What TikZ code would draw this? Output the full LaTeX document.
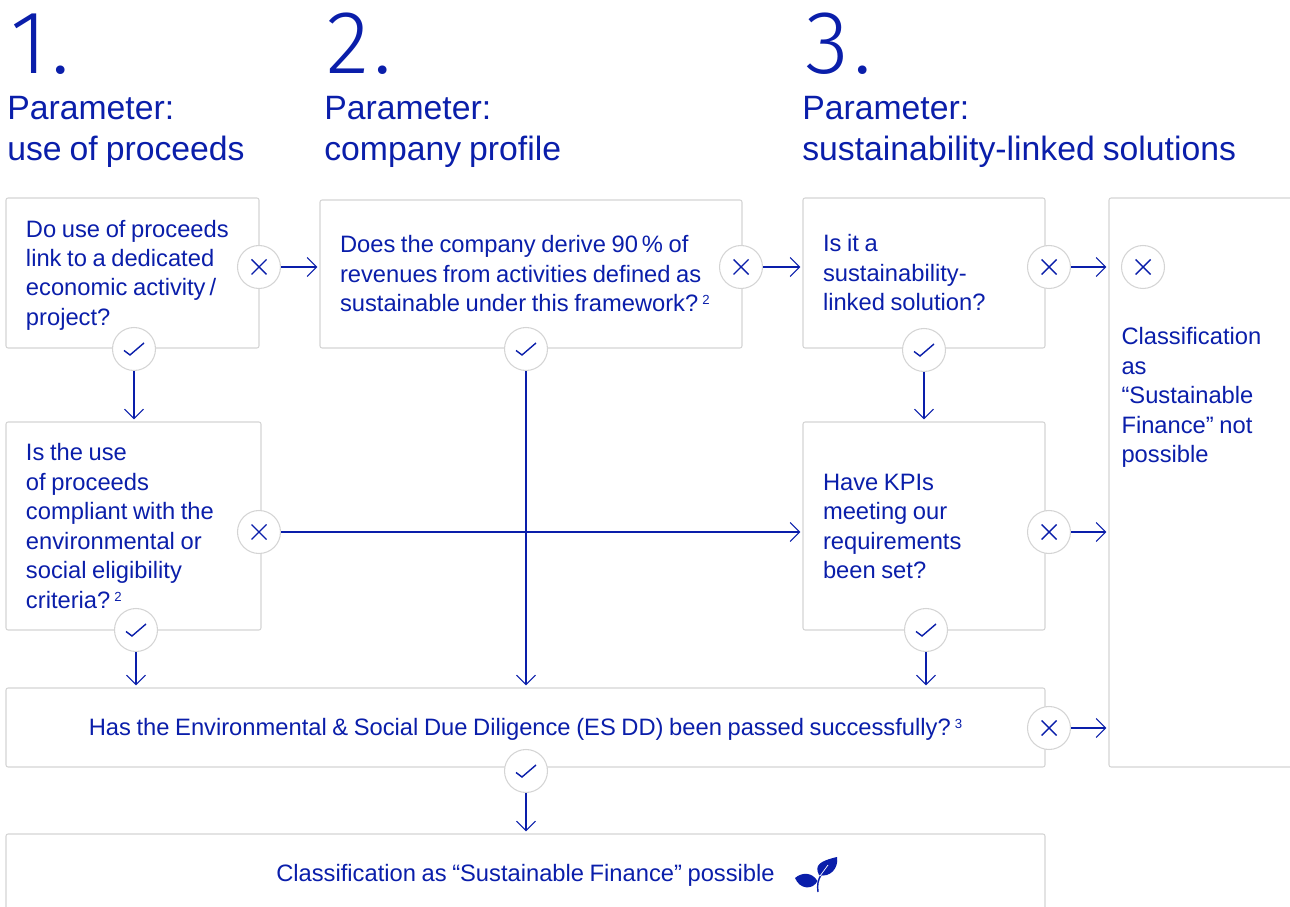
\documentclass[tikz,border=0pt]{standalone}
\usepackage{fontspec}
\setmainfont[WordSpace=0.85]{Liberation Sans}
\newfontfamily\numberfont[UprightFont={* Light}, LetterSpace=5]{Fira Sans}
\usepackage{tikz}
\usetikzlibrary{arrows.meta}
\definecolor{inkblue}{RGB}{10,30,170}
\definecolor{boxgray}{RGB}{212,212,212}
\newcommand{\footmark}[1]{\,\raisebox{0.55ex}{\fontsize{7.5}{8}\selectfont #1}}
\tikzstyle{questionbox} = [rectangle, draw=boxgray, line width=0.6pt, rounded corners=1.2pt, inner xsep=0.4cm, inner ysep=0pt, text=inkblue, align=flush left, font=\fontsize{13.5}{16.75}\selectfont, execute at begin node={\rule{0pt}{12.2pt}}, execute at end node={\rule[-2.6pt]{0pt}{2.6pt}}]
\tikzstyle{widebox} = [questionbox, align=flush center, minimum width=20.78cm, minimum height=1.58cm, text width=19.98cm]
\tikzstyle{heading} = [anchor=west, inner sep=0pt, text=inkblue, align=left, font=\fontsize{19.2}{23.3}\selectfont]
\tikzstyle{bignumber} = [anchor=base west, inner sep=0pt, text=inkblue, font=\numberfont\fontsize{51}{51}\selectfont]
\tikzstyle{badge} = [circle, draw=boxgray, fill=white, line width=0.6pt, minimum size=0.86cm, inner sep=0pt]
\tikzstyle{nobadge} = [badge, path picture={
        \draw[inkblue, line width=0.8pt] ([shift={(-0.15,-0.15)}]path picture bounding box.center) -- ++(0.3,0.3);
        \draw[inkblue, line width=0.8pt] ([shift={(-0.15,0.15)}]path picture bounding box.center) -- ++(0.3,-0.3);}]
\tikzstyle{yesbadge} = [badge, path picture={
        \draw[inkblue, line width=0.8pt] ([shift={(-0.20,-0.03)}]path picture bounding box.center) -- ++(0.12,-0.09) -- ++(0.28,0.24);}]
\tikzstyle{flow} = [draw=inkblue, line width=0.6pt, -{Straight Barb[length=0.19cm, width=0.38cm, line width=0.6pt]}, shorten >=0.04cm]

\begin{document}
\begin{tikzpicture}
        \path[use as bounding box, clip] (0, 0) rectangle (25.8, -18.14);

        \node[bignumber] at (0.2, -1.48) (NumberOne) {1.};
        \node[bignumber] at (6.52, -1.48) (NumberTwo) {2.};
        \node[bignumber] at (16.1, -1.48) (NumberThree) {3.};
        \node[heading] at (0.14, -2.63) (HeadOne) {Parameter:\\use of proceeds};
        \node[heading] at (6.48, -2.63) (HeadTwo) {Parameter:\\company profile};
        \node[heading] at (16.04, -2.63) (HeadThree) {Parameter:\\sustainability-linked solutions};

        \node[questionbox, minimum width=5.06cm, minimum height=3cm, text width=4.26cm] at (2.65, -5.46) (ProceedsLink) {Do use of proceeds\\link to a dedicated\\economic activity\,/\\project?};
        \node[questionbox, minimum width=8.44cm, minimum height=2.96cm, text width=7.64cm] at (10.62, -5.48) (Revenues) {Does the company derive 90\,\% of\\revenues from activities defined as\\sustainable under this framework?\footmark{2}};
        \node[questionbox, minimum width=4.84cm, minimum height=3cm, text width=4.04cm] at (18.48, -5.46) (LinkedSolution) {Is it a\\sustainability-\\linked solution?};
        \node[questionbox, minimum width=4.32cm, minimum height=11.38cm, text width=3.52cm] at (24.34, -9.65) (NotPossible) {};
        \node[questionbox, draw=none, anchor=north west, inner xsep=0pt, text width=3.4cm] at (22.42, -6.46) (NotPossibleText) {Classification\\as\\“Sustainable\\Finance” not\\possible};
        \node[questionbox, minimum width=5.1cm, minimum height=4.16cm, text width=4.3cm] at (2.67, -10.52) (Eligibility) {Is the use\\of proceeds\\compliant with the\\environmental or\\social eligibility\\criteria?\footmark{2}};
        \node[questionbox, minimum width=4.84cm, minimum height=4.16cm, text width=4.04cm] at (18.48, -10.52) (KPIs) {Have KPIs\\meeting our\\requirements\\been set?};
        \node[widebox] at (10.51, -14.55) (DueDiligence) {Has the Environmental \& Social Due Diligence (ES DD) been passed successfully?\footmark{3}};
        \node[widebox] at (10.51, -17.47) (Possible) {Classification as “Sustainable Finance” possible};

        \node[nobadge] at (5.18, -5.34) (NoProceeds) {};
        \node[nobadge] at (14.82, -5.34) (NoRevenues) {};
        \node[nobadge] at (20.98, -5.34) (NoSolution) {};
        \node[nobadge] at (22.86, -5.34) (NoFinal) {};
        \node[nobadge] at (5.18, -10.64) (NoEligibility) {};
        \node[nobadge] at (20.98, -10.64) (NoKPIs) {};
        \node[nobadge] at (20.98, -14.56) (NoDiligence) {};
        \node[yesbadge] at (2.68, -6.98) (YesProceeds) {};
        \node[yesbadge] at (10.52, -6.98) (YesRevenues) {};
        \node[yesbadge] at (18.48, -7) (YesSolution) {};
        \node[yesbadge] at (2.72, -12.6) (YesEligibility) {};
        \node[yesbadge] at (18.52, -12.6) (YesKPIs) {};
        \node[yesbadge] at (10.52, -15.42) (YesDiligence) {};

        \draw[flow] (NoProceeds) -- (NoProceeds -| Revenues.west);
        \draw[flow] (NoRevenues) -- (NoRevenues -| LinkedSolution.west);
        \draw[flow] (NoSolution) -- (NoSolution -| NotPossible.west);
        \draw[flow] (NoEligibility) -- (NoEligibility -| KPIs.west);
        \draw[flow] (NoKPIs) -- (NoKPIs -| NotPossible.west);
        \draw[flow] (NoDiligence) -- (NoDiligence -| NotPossible.west);
        \draw[flow] (YesProceeds) -- (YesProceeds |- Eligibility.north);
        \draw[flow] (YesSolution) -- (YesSolution |- KPIs.north);
        \draw[flow] (YesRevenues) -- (YesRevenues |- DueDiligence.north);
        \draw[flow] (YesEligibility) -- (YesEligibility |- DueDiligence.north);
        \draw[flow] (YesKPIs) -- (YesKPIs |- DueDiligence.north);
        \draw[flow] (YesDiligence) -- (YesDiligence |- Possible.north);

        % leaf
        \fill[inkblue] (16.38, -17.50) .. controls (16.28, -17.30) and (16.40, -17.22) .. (16.74, -17.14) .. controls (16.78, -17.36) and (16.60, -17.56) .. cycle;
        \fill[inkblue] (15.90, -17.56) .. controls (16.04, -17.44) and (16.24, -17.44) .. (16.35, -17.62) .. controls (16.26, -17.80) and (16.00, -17.80) .. cycle;
        \draw[inkblue, line width=0.8pt] (16.36, -17.84) .. controls (16.34, -17.70) and (16.36, -17.60) .. (16.42, -17.50);
        \draw[white, line width=0.4pt] (16.40, -17.52) -- (16.56, -17.30);
\end{tikzpicture}
\end{document}
